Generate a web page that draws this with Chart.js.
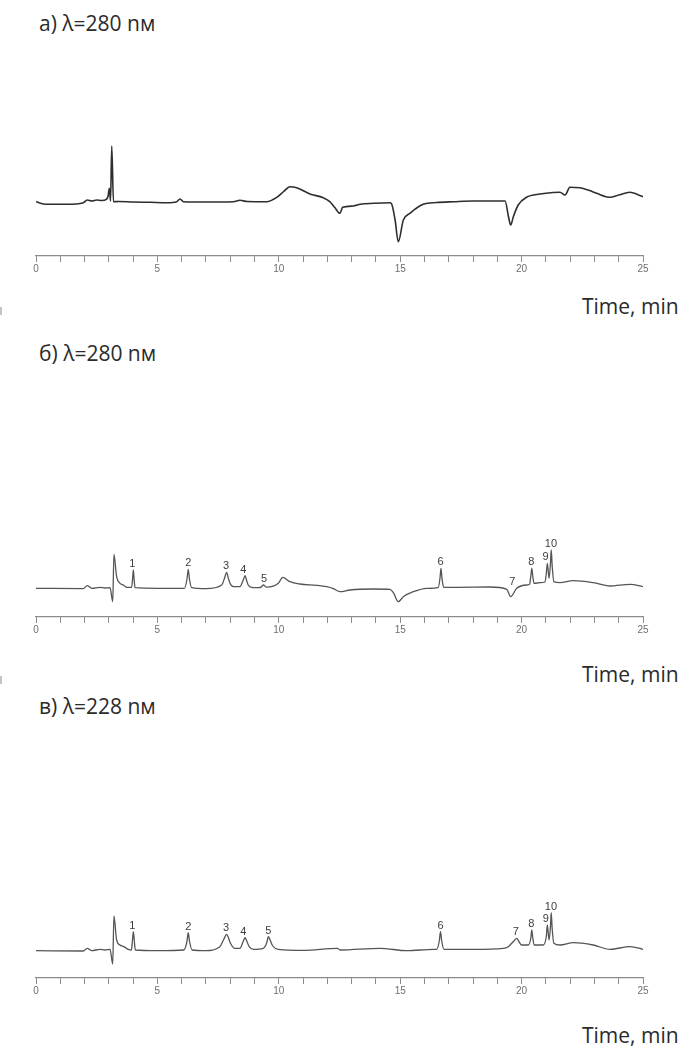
<!DOCTYPE html>
<html>
<head>
<meta charset="utf-8">
<script src="https://cdn.jsdelivr.net/npm/chart.js@4.4.1/dist/chart.umd.min.js"></script>
<style>
  html, body { margin: 0; padding: 0; background: #ffffff; }
  body { width: 681px; height: 1047px; position: relative; overflow: hidden; }
  .cap { position: absolute; font-family: "Open Sans", sans-serif; font-size: 21px; line-height: 21px; color: #2b2b2b; white-space: nowrap; }
  .edge { position: absolute; left: 0; width: 2px; height: 8px; background: #c4c4c4; }
  canvas { position: absolute; left: 0; }
</style>
</head>
<body>
<div class="cap" style="left:39px; top:13px;">а) λ=280 nм</div>
<div class="cap" style="left:582px; top:296px;">Time, min</div>
<div class="edge" style="top:307px;"></div>
<div class="cap" style="left:39px; top:343px;">б) λ=280 nм</div>
<div class="cap" style="left:582px; top:664px;">Time, min</div>
<div class="edge" style="top:676px;"></div>
<div class="cap" style="left:39px; top:696px;">в) λ=228 nм</div>
<div class="cap" style="left:582px; top:1025px;">Time, min</div>

<canvas id="chartA" width="681" height="180" style="top:100px"></canvas>
<canvas id="chartB" width="681" height="161" style="top:480px"></canvas>
<canvas id="chartC" width="681" height="162" style="top:840px"></canvas>

<script>
// Retention time axis, minutes
const timeMin = 0;
const timeMax = 25;
const majorStep = 5;

// а) λ=280 nm — blank run (detector signal, mAU)
const timesA = [0, 0.3, 0.8, 1.26, 1.95, 2.11, 2.3, 2.5, 2.7, 2.9, 2.97, 3.02, 3.07, 3.12, 3.19, 3.4, 4.01, 4.7, 5.38, 5.8, 5.93, 6.07, 7.0, 8.13, 8.4, 8.7, 9.5, 9.92, 10.2, 10.46, 10.74, 11.28, 11.83, 12.1, 12.3, 12.52, 12.63, 13.07, 13.35, 13.9, 14.58, 14.65, 14.79, 14.92, 15.13, 15.4, 15.95, 16.5, 17.2, 18.0, 19.32, 19.46, 19.55, 19.66, 19.86, 20.2, 20.76, 21.3, 21.58, 21.79, 21.99, 22.4, 22.8, 23.09, 23.64, 24.0, 24.46, 25.0];
const signalA = [0.3, -2, -2.3, -2.3, -0.7, 2, 1, 2, 1.5, 2.7, 6, 13.7, 1, 56, 0.3, 0.5, 0, -0.3, -0.7, 0.3, 3, 0.3, 0, 0.3, 1.7, 0.5, 0.3, 4.7, 10.5, 15.3, 14.3, 8, 4.3, 0.3, -5.3, -11.3, -5.3, -4, -2.3, -1.3, -0.7, -2, -18, -39.7, -18, -11.3, -2.3, -0.5, 0.3, 1, 1, -14.7, -23, -14.7, -3, 4.7, 8, 9.5, 9.7, 7, 14.7, 14.3, 11.5, 8.7, 4.7, 7, 9.7, 5.3];

// б) λ=280 nm — standard mixture
const timesB = [0, 1.95, 2.11, 2.3, 2.64, 2.84, 3.05, 3.16, 3.21, 3.32, 3.46, 3.6, 3.73, 3.94, 3.98, 4.01, 4.04, 4.08, 5.0, 6.11, 6.22, 6.27, 6.32, 6.41, 7.0, 7.65, 7.78, 7.85, 7.92, 7.99, 8.13, 8.4, 8.55, 8.61, 8.67, 8.74, 8.95, 9.25, 9.36, 9.5, 9.98, 10.16, 10.46, 10.87, 11.56, 11.97, 12.25, 12.52, 12.93, 13.89, 14.58, 14.72, 14.92, 15.13, 15.54, 16.09, 16.57, 16.64, 16.68, 16.72, 16.79, 17.33, 18.7, 19.39, 19.55, 19.8, 20.21, 20.33, 20.38, 20.42, 20.46, 20.51, 20.76, 20.96, 21.02, 21.06, 21.13, 21.19, 21.22, 21.26, 21.33, 21.58, 22.13, 22.95, 23.64, 24.47, 25.0];
const signalB = [-0.3, -0.7, 2.3, -0.3, 0.7, 0, 0.3, -13.7, 33.7, 11.3, 4.7, 3, 0.7, 0.7, 10, 18, 9, 0.3, -0.3, -0.3, 9, 18.7, 9, 0.3, -0.7, 3, 11, 15.7, 10, 4.7, 1.3, 1.3, 9, 12.3, 8, 3, 0.3, 0.5, 3, 0.8, 4.7, 10.7, 6.3, 4, 2.7, 1.3, -0.7, -3.7, -2, -1, -1.3, -4.7, -13.7, -8.7, -3.7, -0.3, 0.7, 10, 19.7, 10, 0.7, 0.7, 1, -1.3, -8.7, -0.3, 3, 3.7, 12, 19.7, 12, 4.7, 5.3, 6, 15, 24.7, 9.7, 25, 38, 22, 6.3, 5.3, 7.3, 5.3, 2, 3.7, 1.3];

// в) λ=228 nm — standard mixture
const timesC = [0, 1.95, 2.11, 2.3, 2.64, 2.84, 3.05, 3.16, 3.21, 3.32, 3.46, 3.62, 3.8, 3.93, 3.97, 4.01, 4.05, 4.09, 5.0, 6.09, 6.22, 6.27, 6.32, 6.43, 7.0, 7.57, 7.74, 7.85, 7.93, 8.01, 8.18, 8.4, 8.54, 8.61, 8.68, 8.78, 8.95, 9.36, 9.5, 9.57, 9.64, 9.75, 9.98, 11.0, 12.41, 12.52, 14.17, 15.27, 16.37, 16.5, 16.61, 16.66, 16.71, 16.8, 18.0, 19.25, 19.45, 19.68, 19.8, 19.9, 20.0, 20.28, 20.38, 20.42, 20.46, 20.52, 20.89, 21.02, 21.06, 21.13, 21.19, 21.22, 21.26, 21.33, 21.58, 22.13, 22.95, 23.64, 24.47, 25.0];
const signalC = [0.3, 0, 2.7, 0.3, 1.7, 1, 1.7, -13, 35, 11, 6, 4.3, 1.7, 1, 10, 19.3, 10, 1, 0.3, 1, 10, 18.3, 10, 1, 0.3, 4.3, 12, 16.7, 13, 7.7, 2.7, 2.7, 10, 13.3, 10, 4.3, 1.7, 2.7, 8, 14.3, 11, 5, 1.7, 0.7, 2.7, 1, 2.7, 0.3, 1.7, 1.7, 10, 19.3, 10, 1.7, 1.7, 2.7, 4.3, 10, 12.7, 9, 6, 6, 13, 21, 13, 6, 6, 15, 26, 11, 25, 38.3, 22, 7.7, 6, 8.3, 6, 1.7, 4.3, 1.7];

// Peak numbering and retention times
const peakNames = ['1', '2', '3', '4', '5', '6', '7', '8', '9', '10'];
const peakTimesB = [3.97, 6.27, 7.83, 8.54, 9.39, 16.66, 19.62, 20.40, 20.99, 21.21];
const peakTimesC = [3.97, 6.27, 7.83, 8.54, 9.57, 16.66, 19.76, 20.40, 21.00, 21.21];

// Vertical range of each panel (mAU)
const rangeA = [-54, 102];
const rangeB = [-29, 108];
const rangeC = [-27, 111];

function toPoints(times, values) {
  return times.map((t, i) => ({ x: t, y: values[i] }));
}

// Writes the peak numbers just above the highest point near each retention time
const peakLabelPlugin = {
  id: 'peakLabels',
  afterDatasetsDraw(chart, args, opts) {
    if (!opts.times) return;
    const { ctx } = chart;
    const xs = chart.scales.x, ys = chart.scales.y;
    const pts = chart.data.datasets[0].data;
    ctx.save();
    ctx.font = '11px "Liberation Sans", Arial, sans-serif';
    ctx.fillStyle = '#3c3c3c';
    ctx.textAlign = 'center';
    ctx.textBaseline = 'alphabetic';
    opts.times.forEach((t, i) => {
      let top = -Infinity;
      pts.forEach(p => { if (Math.abs(p.x - t) <= 0.2 && p.y > top) top = p.y; });
      ctx.fillText(opts.names[i], xs.getPixelForValue(t), ys.getPixelForValue(top) - 3);
    });
    ctx.restore();
  }
};

function makeChart(id, times, values, range, lineColor, lineWidth, labelTimes) {
  return new Chart(document.getElementById(id), {
    type: 'line',
    data: {
      datasets: [{
        data: toPoints(times, values),
        borderColor: lineColor,
        borderWidth: lineWidth,
        pointRadius: 0,
        fill: false,
        cubicInterpolationMode: 'monotone'
      }]
    },
    options: {
      responsive: false,
      animation: false,
      devicePixelRatio: 1,
      layout: { padding: { left: 36, right: 38, top: 0, bottom: 0 } },
      plugins: {
        legend: { display: false },
        tooltip: { enabled: false },
        peakLabels: { times: labelTimes, names: peakNames }
      },
      scales: {
        x: {
          type: 'linear',
          min: timeMin,
          max: timeMax,
          afterFit(scale) { scale.height = 24; },
          border: { display: true, color: '#8c8c8c', width: 1.2 },
          grid: { display: true, drawOnChartArea: false, drawTicks: true, tickLength: 6, color: '#8c8c8c', lineWidth: 1 },
          ticks: {
            stepSize: 1,
            autoSkip: false,
            maxRotation: 0,
            padding: 1,
            color: '#6e6e6e',
            font: { family: '"Liberation Sans Narrow", "Liberation Sans", Arial, sans-serif', size: 10 },
            callback: v => (v % majorStep === 0 ? String(v) : '')
          }
        },
        y: { display: false, min: range[0], max: range[1] }
      }
    },
    plugins: [peakLabelPlugin]
  });
}

makeChart('chartA', timesA, signalA, rangeA, '#2e2e2e', 1.6, null);
makeChart('chartB', timesB, signalB, rangeB, '#555555', 1.3, peakTimesB);
makeChart('chartC', timesC, signalC, rangeC, '#555555', 1.3, peakTimesC);
</script>
</body>
</html>
